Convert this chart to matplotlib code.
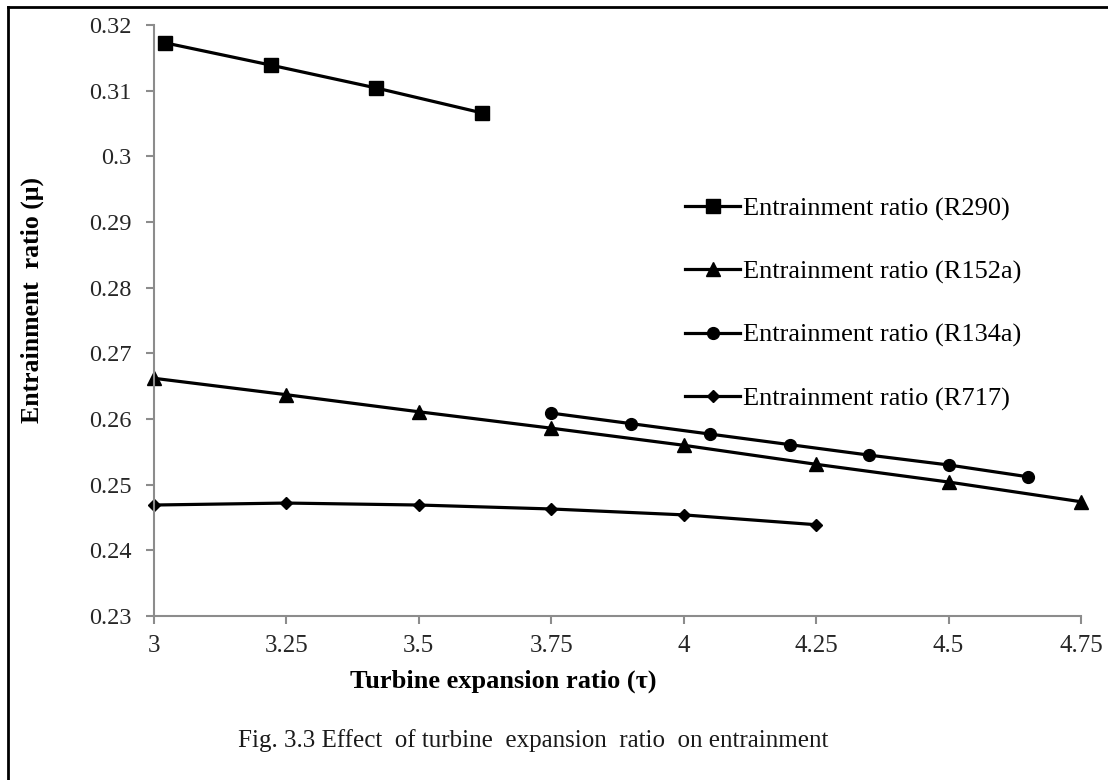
import numpy as np
import matplotlib
matplotlib.use("Agg")
import matplotlib.pyplot as plt
from matplotlib.lines import Line2D

plt.rcParams['font.family'] = ['Liberation Serif', 'DejaVu Serif']

# entrainment ratio vs turbine expansion ratio, per refrigerant
tau_r290 = [3.02, 3.22, 3.42, 3.62]
mu_r290 = [0.3173, 0.3139, 0.3104, 0.3066]

tau_r152a = [3.0, 3.25, 3.5, 3.75, 4.0, 4.25, 4.5, 4.75]
mu_r152a = [0.2662, 0.2637, 0.2611, 0.2586, 0.2560, 0.2531, 0.2504, 0.2474]

tau_r134a = [3.75, 3.9, 4.05, 4.2, 4.35, 4.5, 4.65]
mu_r134a = [0.2609, 0.2593, 0.2577, 0.2561, 0.2545, 0.2530, 0.2512]

tau_r717 = [3.0, 3.25, 3.5, 3.75, 4.0, 4.25]
mu_r717 = [0.2469, 0.2472, 0.2469, 0.2463, 0.2454, 0.2439]

labels = ['Entrainment ratio (R290)', 'Entrainment ratio (R152a)',
          'Entrainment ratio (R134a)', 'Entrainment ratio (R717)']

x_ticks = [3, 3.25, 3.5, 3.75, 4, 4.25, 4.5, 4.75]
x_tick_labels = ['3', '3.25', '3.5', '3.75', '4', '4.25', '4.5', '4.75']
y_ticks = [0.23, 0.24, 0.25, 0.26, 0.27, 0.28, 0.29, 0.30, 0.31, 0.32]
y_tick_labels = ['0.23', '0.24', '0.25', '0.26', '0.27', '0.28', '0.29', '0.3', '0.31', '0.32']

W, H = 1108, 780
fig = plt.figure(figsize=(W / 100, H / 100), dpi=100)
ax = fig.add_axes([154 / W, 1 - 616 / H, (1081 - 154) / W, (616 - 25) / H])

lw = 2.3
ax.plot(tau_r290, mu_r290, color='black', lw=lw, marker='s', ms=9.5, label=labels[0])
ax.plot(tau_r152a, mu_r152a, color='black', lw=lw, marker='^', ms=9.5, label=labels[1])
ax.plot(tau_r134a, mu_r134a, color='black', lw=lw, marker='o', ms=8.5, label=labels[2])
ax.plot(tau_r717, mu_r717, color='black', lw=lw, marker='D', ms=6.5, label=labels[3])

ax.set_xlim(3, 4.75)
ax.set_ylim(0.23, 0.32)
ax.set_xticks(x_ticks)
ax.set_xticklabels(x_tick_labels)
ax.set_yticks(y_ticks)
ax.set_yticklabels(y_tick_labels)

for side in ['top', 'right']:
    ax.spines[side].set_visible(False)
for side in ['left', 'bottom']:
    ax.spines[side].set_color('#8c8c8c')
    ax.spines[side].set_linewidth(1.5)

ax.tick_params(axis='both', direction='out', length=6, width=1.5, color='#8c8c8c',
               labelcolor='#262626')
ax.tick_params(axis='y', pad=10, labelsize=17.5)
ax.tick_params(axis='x', pad=8, labelsize=18)
for line in ax.get_lines():
    line.set_clip_on(False)

ax.set_xlabel('Turbine expansion ratio (τ)', fontsize=19, fontweight='bold', va='top')
ax.xaxis.set_label_coords((503 - 154) / 927, (616 - 670) / 591)
ax.set_ylabel('Entrainment  ratio (μ)', fontsize=18.5, fontweight='bold')
ax.yaxis.set_label_coords((44 - 154) / 927, (616 - 300) / 591)

leg = ax.legend(loc='upper left', bbox_to_anchor=(685 / W, 1 - 197 / H),
                bbox_transform=fig.transFigure, frameon=False, fontsize=19,
                handlelength=2.1, handletextpad=0.1, labelspacing=1.49,
                borderpad=0, borderaxespad=0)

fig.text(533 / W, 1 - 741 / H,
         'Fig. 3.3 Effect  of turbine  expansion  ratio  on entrainment',
         ha='center', va='center', fontsize=18, color='#1a1a1a')

# frame lines along the top and left edges
fig.add_artist(Line2D([8 / W, 1], [1 - 7 / H, 1 - 7 / H],
                      transform=fig.transFigure, color='black', lw=2))
fig.add_artist(Line2D([8 / W, 8 / W], [0, 1 - 7 / H],
                      transform=fig.transFigure, color='black', lw=2))

fig.savefig('out.png', dpi=100)
